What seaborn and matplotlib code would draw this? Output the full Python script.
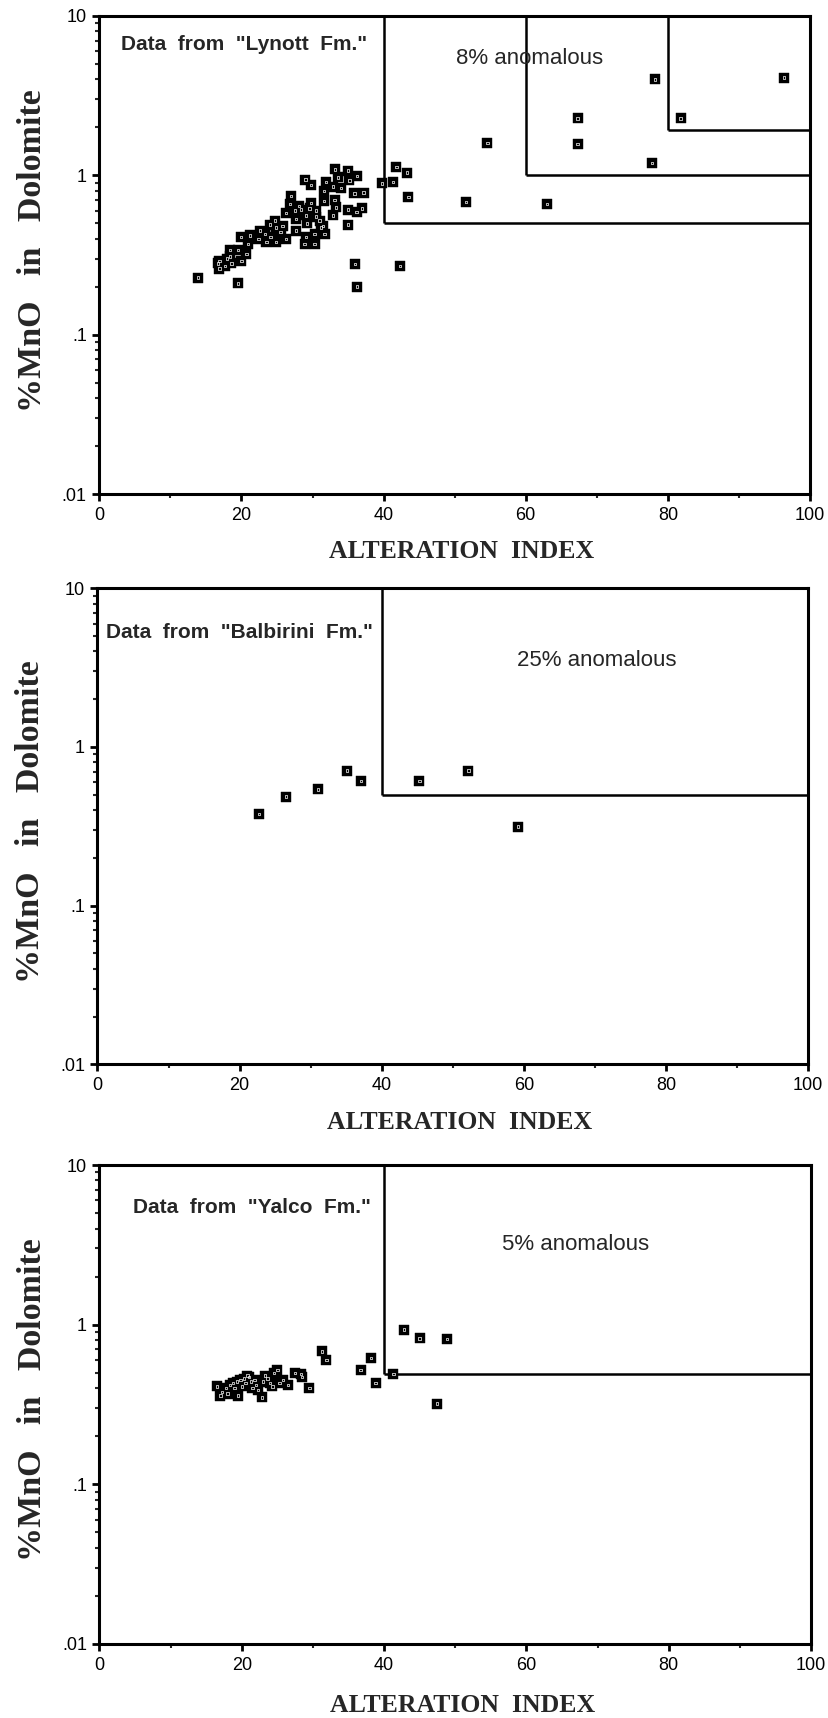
import numpy as np
import pandas as pd
import matplotlib
matplotlib.use("Agg")
import matplotlib.pyplot as plt
import seaborn as sns
from matplotlib.ticker import FixedLocator, FixedFormatter, LogLocator, NullFormatter

# ---------------- data ----------------
x_ticks = [0, 20, 40, 60, 80, 100]
x_tick_labels = ["0", "20", "40", "60", "80", "100"]
y_ticks = [10, 1, 0.1, 0.01]
y_tick_labels = ["10", "1", ".1", ".01"]

lynott_ai = [78.2, 96.3, 67.3, 81.8, 54.6, 67.3, 77.8, 41.8, 43.3, 41.3, 39.8, 43.5, 51.6, 63.0,
             13.9, 19.5, 36.0, 36.3, 42.3, 35.0,
             33.2, 35.0, 36.3, 33.6, 35.2, 31.9, 29.0, 29.8, 32.9, 34.0, 31.6, 35.9, 37.2, 31.6,
             33.1, 33.3, 32.9, 35.0, 36.2, 37.0, 27.0, 26.8, 28.1, 29.8, 30.5, 29.1, 26.3, 27.7,
             29.2, 31.0, 31.5, 31.7, 30.3, 29.1, 28.9, 30.3, 24.7, 25.8, 27.7, 26.3, 24.9, 23.5,
             23.3, 22.6, 21.2, 19.9, 20.9, 19.5, 18.4, 20.7, 20.0, 18.4, 16.9, 16.7, 17.7, 16.9,
             18.6, 18.0, 22.4, 24.1, 25.5, 27.5, 28.4, 29.6, 30.5, 31.2, 24.9, 24.0]
lynott_mno = [4.0, 4.1, 2.28, 2.28, 1.60, 1.57, 1.2, 1.13, 1.04, 0.91, 0.89, 0.73, 0.68, 0.66,
              0.228, 0.21, 0.277, 0.20, 0.27, 0.49,
              1.09, 1.07, 0.99, 0.97, 0.93, 0.91, 0.94, 0.87, 0.85, 0.83, 0.80, 0.77, 0.78, 0.69,
              0.70, 0.63, 0.56, 0.61, 0.59, 0.62, 0.74, 0.66, 0.64, 0.67, 0.60, 0.56, 0.58, 0.53,
              0.50, 0.52, 0.48, 0.43, 0.43, 0.41, 0.37, 0.37, 0.52, 0.48, 0.45, 0.40, 0.38, 0.38,
              0.43, 0.45, 0.42, 0.41, 0.37, 0.34, 0.34, 0.32, 0.29, 0.31, 0.29, 0.28, 0.27, 0.26,
              0.28, 0.30, 0.40, 0.41, 0.44, 0.60, 0.61, 0.62, 0.55, 0.47, 0.47, 0.49]

balbirini_ai = [22.7, 26.5, 31.0, 35.1, 37.1, 45.3, 52.2, 59.2]
balbirini_mno = [0.377, 0.486, 0.54, 0.71, 0.61, 0.61, 0.71, 0.315]

yalco_ai = [16.5, 17.0, 17.2, 17.8, 18.0, 18.3, 18.8, 19.0, 19.3, 19.5, 19.8, 20.0, 20.3, 20.5,
            20.8, 21.0, 21.3, 21.5, 21.8, 22.0, 22.3, 22.8, 23.0, 23.3, 23.6, 24.0, 24.3, 24.5,
            25.0, 25.3, 25.8, 26.5, 27.5, 28.3, 28.5, 29.5, 31.3, 31.9, 36.7, 38.2, 38.8, 41.3,
            42.8, 45.0, 48.8, 47.4]
yalco_mno = [0.41, 0.36, 0.38, 0.40, 0.37, 0.42, 0.43, 0.40, 0.44, 0.36, 0.45, 0.41, 0.46, 0.43,
             0.48, 0.47, 0.44, 0.40, 0.45, 0.42, 0.39, 0.35, 0.44, 0.48, 0.46, 0.43, 0.41, 0.50,
             0.52, 0.43, 0.45, 0.42, 0.50, 0.49, 0.47, 0.40, 0.68, 0.60, 0.52, 0.62, 0.43, 0.49,
             0.93, 0.82, 0.81, 0.32]

# anomaly box thresholds (alteration index, MnO)
lynott_boxes = [(40, 0.5), (60, 1.0), (80, 1.92)]
balbirini_boxes = [(40, 0.5)]
yalco_boxes = [(40, 0.49)]

titles = ['Data  from  "Lynott  Fm."', 'Data  from  "Balbirini  Fm."', 'Data  from  "Yalco  Fm."']
title_pos = [(3.1, 6.6), (1.2, 5.3), (4.7, 5.4)]
anom_texts = ["8% anomalous", "25% anomalous", "5% anomalous"]
anom_pos = [(60.6, 5.4), (70.3, 3.5), (66.9, 3.2)]

x_label = "ALTERATION  INDEX"
y_label = "%MnO   in   Dolomite"

# ---------------- style ----------------
sns.set_style("ticks")
plt.rcParams["font.family"] = ["Liberation Sans", "DejaVu Sans"]

W, H = 829, 1718
fig = plt.figure(figsize=(W / 100, H / 100), dpi=100)

# axes boxes in pixels: left, right, top, bottom
boxes_px = [(99.3, 810, 16, 494), (97.5, 808, 588.3, 1064.3), (99.5, 811, 1165, 1644)]
datasets = [(lynott_ai, lynott_mno, lynott_boxes),
            (balbirini_ai, balbirini_mno, balbirini_boxes),
            (yalco_ai, yalco_mno, yalco_boxes)]
xlabel_off = [57, 58, 61]

for i, ((l, r, t, b), (xa, ya, bx)) in enumerate(zip(boxes_px, datasets)):
    ax = fig.add_axes([l / W, 1 - b / H, (r - l) / W, (b - t) / H])
    df = pd.DataFrame({"ai": xa, "mno": ya})
    sns.scatterplot(data=df, x="ai", y="mno", ax=ax, marker="s", s=50,
                    color="black", edgecolor="black", linewidth=0.3, zorder=4)
    sns.scatterplot(data=df, x="ai", y="mno", ax=ax, marker="s", s=3,
                    facecolor="none", edgecolor="white", linewidth=0.5, zorder=5)
    ax.set_yscale("log")
    ax.set_xlim(0, 100)
    ax.set_ylim(0.01, 10)
    for (bx0, by0) in bx:
        ax.vlines(bx0, by0, 10, colors="black", linewidth=1.8, zorder=3)
        ax.hlines(by0, bx0, 100, colors="black", linewidth=1.8, zorder=3)

    ax.xaxis.set_major_locator(FixedLocator(x_ticks))
    ax.xaxis.set_major_formatter(FixedFormatter(x_tick_labels))
    ax.xaxis.set_minor_locator(FixedLocator([10, 30, 50, 70, 90]))
    ax.yaxis.set_major_locator(FixedLocator(y_ticks))
    ax.yaxis.set_major_formatter(FixedFormatter(y_tick_labels))
    ax.yaxis.set_minor_locator(LogLocator(base=10, subs=np.arange(2, 10)))
    ax.yaxis.set_minor_formatter(NullFormatter())
    ax.tick_params(axis="both", which="major", direction="out", length=5, width=2,
                   labelsize=13, colors="black", pad=4)
    ax.tick_params(axis="both", which="minor", direction="out", length=3, width=1.5)
    for sp in ax.spines.values():
        sp.set_visible(True)
        sp.set_linewidth(2.2)
        sp.set_color("black")

    ax.set_xlabel(x_label, fontsize=18.5, fontweight="bold", family="Liberation Serif")
    ax.xaxis.set_label_coords(0.51, -xlabel_off[i] / (b - t))
    ax.xaxis.label.set_va("center")
    ax.set_ylabel(y_label, fontsize=24.5, fontweight="bold", family="Liberation Serif")
    ax.yaxis.set_label_coords(-67 / (r - l), 0.51)
    ax.yaxis.label.set_va("center")

    ax.text(title_pos[i][0], title_pos[i][1], titles[i], fontsize=15, fontweight="bold",
            ha="left", va="center", zorder=6)
    ax.text(anom_pos[i][0], anom_pos[i][1], anom_texts[i], fontsize=16,
            ha="center", va="center", zorder=6)

fig.savefig("out.png", dpi=100, facecolor="white")
